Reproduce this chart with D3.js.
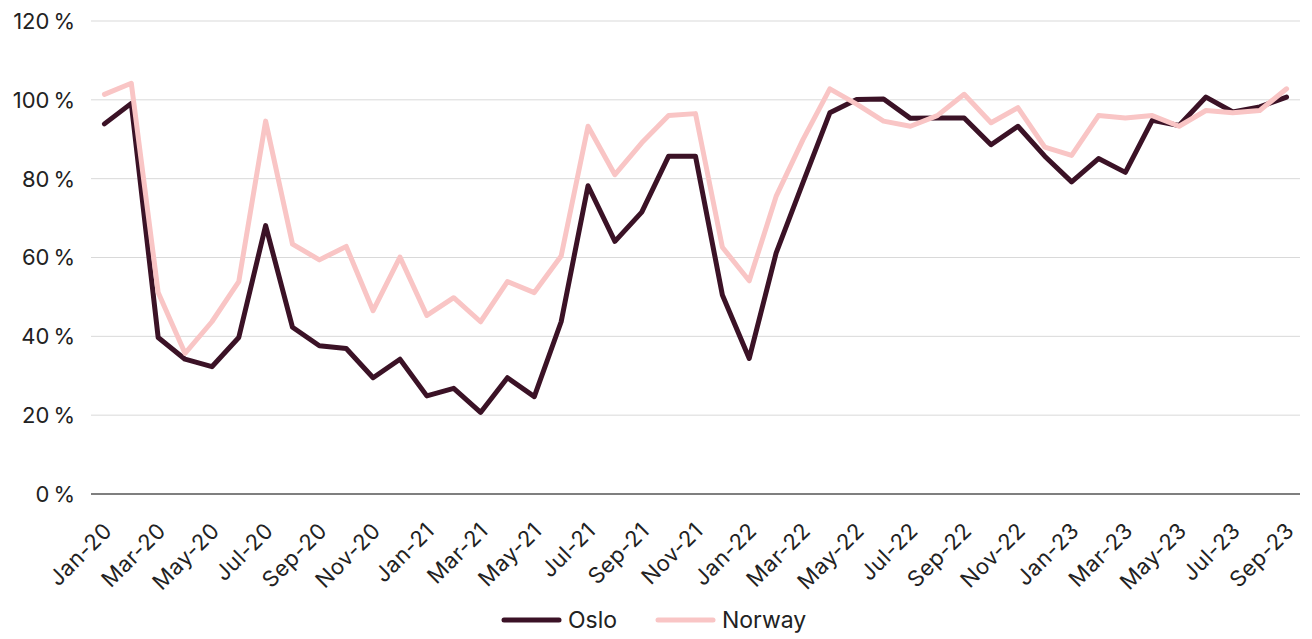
<!DOCTYPE html>
<html>
<head>
<meta charset="utf-8">
<script src="https://cdn.jsdelivr.net/npm/d3@7"></script>
<style>
  html, body { margin: 0; padding: 0; background: #fff; }
  svg { display: block; font-family: "Inter", "Liberation Sans", sans-serif; }
</style>
</head>
<body>
<svg id="chart" width="1312" height="639"></svg>
<script>
const months = ["Jan-20","Feb-20","Mar-20","Apr-20","May-20","Jun-20","Jul-20","Aug-20","Sep-20","Oct-20","Nov-20","Dec-20",
  "Jan-21","Feb-21","Mar-21","Apr-21","May-21","Jun-21","Jul-21","Aug-21","Sep-21","Oct-21","Nov-21","Dec-21",
  "Jan-22","Feb-22","Mar-22","Apr-22","May-22","Jun-22","Jul-22","Aug-22","Sep-22","Oct-22","Nov-22","Dec-22",
  "Jan-23","Feb-23","Mar-23","Apr-23","May-23","Jun-23","Jul-23","Aug-23","Sep-23"];
const oslo = [93.9,99.1,39.7,34.2,32.3,39.7,68.1,42.3,37.6,36.9,29.5,34.2,
  24.9,26.8,20.7,29.5,24.7,43.7,78.2,64.1,71.5,85.7,85.7,50.5,
  34.4,61.1,79.0,96.7,100.1,100.2,95.3,95.4,95.4,88.6,93.3,85.7,
  79.2,85.1,81.6,94.8,93.5,100.7,96.9,98.2,100.7];
const norway = [101.4,104.2,51.1,35.7,43.7,53.9,94.6,63.4,59.4,62.8,46.5,60.1,
  45.3,49.8,43.7,53.9,51.1,60.4,93.3,81.0,89.1,96.0,96.5,62.6,
  54.1,75.5,89.9,102.8,98.9,94.6,93.3,96.0,101.4,94.2,98.0,88.0,
  85.9,96.0,95.4,96.0,93.3,97.3,96.7,97.3,102.8];
const yTicks = [0,20,40,60,80,100,120];
const seriesNames = ["Oslo","Norway"];
const seriesColors = ["#3b1226","#f9c5c5"];

const svg = d3.select("#chart");
const mLeft = 91, mRight = 1300, mTop = 21, mBottom = 494;

const x = d3.scaleBand().domain(months).range([mLeft, mRight]);
const y = d3.scaleLinear().domain([0,120]).range([mBottom, mTop]);
const xc = d => x(d) + x.bandwidth()/2;

svg.append("g").selectAll("line").data(yTicks.filter(t => t > 0)).join("line")
  .attr("x1", mLeft).attr("x2", mRight)
  .attr("y1", d => y(d)).attr("y2", d => y(d))
  .attr("stroke", "#d9d9d9").attr("stroke-width", 1);

svg.append("g").selectAll("text").data(yTicks).join("text")
  .attr("x", 75).attr("y", d => y(d))
  .attr("dy", "0.36em")
  .attr("text-anchor", "end")
  .attr("font-size", 22)
  .attr("fill", "#222")
  .text(d => d + "\u202F%");

svg.append("line").attr("x1", mLeft).attr("x2", mRight)
  .attr("y1", y(0)).attr("y2", y(0))
  .attr("stroke", "#7f7f7f").attr("stroke-width", 2);

const shown = months.filter((m, i) => i % 2 === 0);
svg.append("g").selectAll("text").data(shown).join("text")
  .attr("transform", d => `translate(${xc(d) + 9},${y(0) + 38}) rotate(-45)`)
  .attr("text-anchor", "end")
  .attr("font-size", 22)
  .attr("letter-spacing", 0.6)
  .attr("fill", "#222")
  .text(d => d);

const line = d3.line().x((d, i) => xc(months[i])).y(d => y(d));
const data = [oslo, norway];
svg.append("g").selectAll("path").data(data).join("path")
  .attr("d", d => line(d))
  .attr("fill", "none")
  .attr("stroke", (d, i) => seriesColors[i])
  .attr("stroke-width", 5)
  .attr("stroke-linejoin", "round")
  .attr("stroke-linecap", "round");

const legendX = [504, 658];
const lg = svg.append("g").selectAll("g").data(seriesNames).join("g")
  .attr("transform", (d, i) => `translate(${legendX[i]},620)`);
lg.append("line").attr("x1", 0).attr("x2", 55).attr("y1", 0).attr("y2", 0)
  .attr("stroke", (d, i) => seriesColors[i]).attr("stroke-width", 5)
  .attr("stroke-linecap", "round");
lg.append("text").attr("x", 64).attr("dy", "0.36em")
  .attr("font-size", 23).attr("fill", "#222").text(d => d);
</script>
</body>
</html>
